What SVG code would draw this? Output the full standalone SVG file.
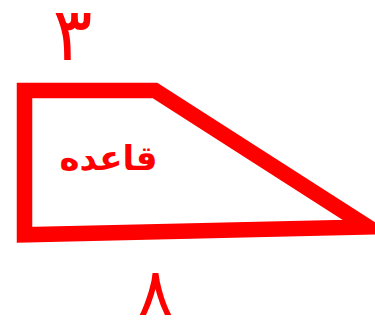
<svg xmlns="http://www.w3.org/2000/svg" width="375" height="324" viewBox="0 0 375 324">
<style>
.lbl{font-family:"DejaVu Sans","Noto Sans",sans-serif;fill:#ff0000;text-anchor:middle}
.num{font-weight:normal}
.word{font-size:34px;font-weight:bold}
</style>
<rect width="375" height="324" fill="#ffffff"/>
<g id="trapezoid">
<polygon points="24.5,90.5 155,90.5 368,227 24.5,234.7" fill="none" stroke="#ff0000" stroke-width="15.5" stroke-linejoin="miter" stroke-miterlimit="10"/>
</g>
<g id="label-top"><text class="lbl num" x="72.5" y="60" font-size="74">۳</text></g>
<g id="label-base"><text class="lbl word" x="108.5" y="170">قاعده</text></g>
<g id="label-bottom"><text class="lbl num" x="155.5" y="315" font-size="66">۸</text></g>
</svg>
